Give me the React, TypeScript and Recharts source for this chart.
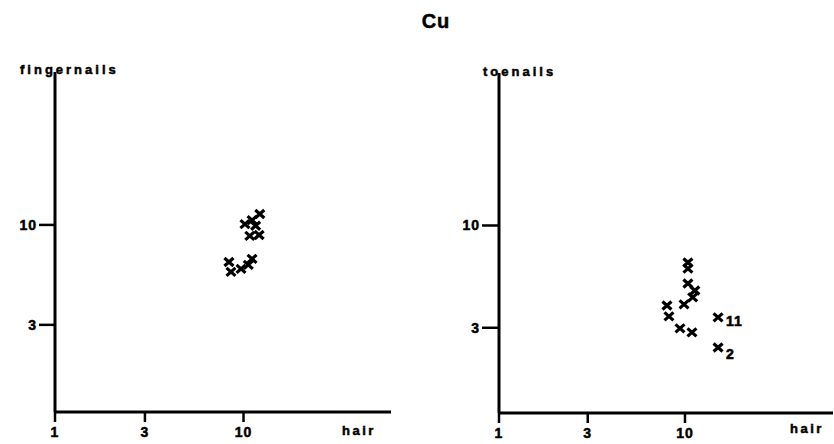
import React from 'react';
import { ScatterChart, Scatter, XAxis, YAxis } from 'recharts';

const xTicks = [1, 3, 10];
const yTicks = [3, 10];

const fingerHair = [8.37, 8.58, 9.7, 10.6, 11.1, 10.18, 11.1, 11.6, 12.2, 10.8, 12.1];
const fingerNails = [6.4, 5.68, 5.89, 6.18, 6.64, 10.1, 10.6, 9.9, 11.4, 8.76, 8.86];

const toeHair = [10.37, 10.37, 10.37, 11.3, 11.0, 9.88, 8.0, 8.2, 9.4, 10.9, 15.06, 15.06];
const toeNails = [6.47, 6.02, 5.05, 4.65, 4.29, 3.95, 3.9, 3.43, 2.98, 2.84, 3.39, 2.38];
const toeLabels = ['', '', '', '', '', '', '', '', '', '', '11', '2'];

const fingerData = fingerHair.map((x, i) => ({ x, y: fingerNails[i], label: '' }));
const toeData = toeHair.map((x, i) => ({ x, y: toeNails[i], label: toeLabels[i] }));

const FONT = '"Liberation Sans", Arial, sans-serif';

const Cross = (props: any) => {
  const { cx, cy, payload } = props;
  if (cx == null || cy == null) return null;
  return (
    <g>
      <path
        d={`M${cx - 4.5},${cy - 4}L${cx + 4.5},${cy + 4}M${cx - 4.5},${cy + 4}L${cx + 4.5},${cy - 4}`}
        stroke="#000"
        strokeWidth={3.2}
        fill="none"
      />
      {payload && payload.label ? (
        <text
          x={cx + 8}
          y={cy + (payload.label === '2' ? 12 : 9)}
          fontFamily={FONT}
          fontWeight="bold"
          fontSize={14}
          fill="#000"
          stroke="#000"
          strokeWidth={0.6}
          letterSpacing={1}
        >
          {payload.label}
        </text>
      ) : null}
    </g>
  );
};

const tickStyle = { fill: '#000', stroke: '#000', strokeWidth: 0.5, fontSize: 14, fontWeight: 'bold', fontFamily: FONT, letterSpacing: 1 } as any;
const axisLineStyle = { stroke: '#000', strokeWidth: 3 };
const tickLineStyle = { stroke: '#000', strokeWidth: 2.5 };

export default function App() {
  return (
    <div style={{ position: 'absolute', left: 0, top: 0, width: 834, height: 444, background: '#fff', overflow: 'hidden' }}>
      <div style={{ position: 'absolute', left: 0, top: 0 }}>
        <ScatterChart width={417} height={444} margin={{ top: 72, right: 26, bottom: 2, left: 15 }}>
          <XAxis
            type="number"
            dataKey="x"
            scale="log"
            domain={[1, 60.6]}
            allowDataOverflow
            ticks={xTicks}
            height={30}
            tick={tickStyle}
            axisLine={axisLineStyle}
            tickLine={tickLineStyle}
            tickSize={10}
            tickMargin={5}
            interval={0}
          />
          <YAxis
            type="number"
            dataKey="y"
            scale="log"
            domain={[1.05, 63.1]}
            allowDataOverflow
            ticks={yTicks}
            width={40}
            tick={tickStyle}
            axisLine={axisLineStyle}
            tickLine={tickLineStyle}
            tickSize={16}
            tickMargin={2}
            interval={0}
          />
          <Scatter data={fingerData} shape={Cross} isAnimationActive={false} />
        </ScatterChart>
      </div>
      <div style={{ position: 'absolute', left: 417, top: 0 }}>
        <ScatterChart width={417} height={444} margin={{ top: 73, right: 1, bottom: 1, left: 42 }}>
          <XAxis
            type="number"
            dataKey="x"
            scale="log"
            domain={[1, 62.5]}
            allowDataOverflow
            ticks={xTicks}
            height={30}
            tick={tickStyle}
            axisLine={axisLineStyle}
            tickLine={tickLineStyle}
            tickSize={10}
            tickMargin={5}
            interval={0}
          />
          <YAxis
            type="number"
            dataKey="y"
            scale="log"
            domain={[1.1, 60.2]}
            allowDataOverflow
            ticks={yTicks}
            width={40}
            tick={tickStyle}
            axisLine={axisLineStyle}
            tickLine={tickLineStyle}
            tickSize={17}
            tickMargin={2}
            interval={0}
          />
          <Scatter data={toeData} shape={Cross} isAnimationActive={false} />
        </ScatterChart>
      </div>
      <svg width={834} height={444} style={{ position: 'absolute', left: 0, top: 0, pointerEvents: 'none' }}>
        <g fontFamily={FONT} fontWeight="bold" fill="#000" stroke="#000" strokeWidth={0.5}>
          <text x={436} y={28} fontSize={20} letterSpacing={1} textAnchor="middle">Cu</text>
          <text x={20} y={74} fontSize={13} letterSpacing={3}>fingernails</text>
          <text x={483} y={76} fontSize={13} letterSpacing={3}>toenails</text>
          <text x={342} y={435} fontSize={13} letterSpacing={2.5}>hair</text>
          <text x={790} y={433} fontSize={13} letterSpacing={2.5}>hair</text>
        </g>
      </svg>
    </div>
  );
}
